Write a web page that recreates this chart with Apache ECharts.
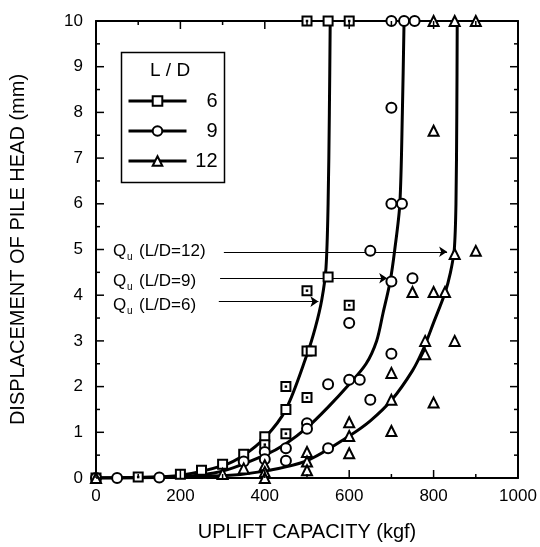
<!DOCTYPE html>
<html>
	<head>
		<meta charset="utf-8">
		<title></title>
		<style>
			body{margin:0;background:#fff;}
			#main{
				width: 540px;
				height: 547px;
			}
		</style>
	</head>
	<body>
		<div id="main"></div>
		<script src="https://cdn.jsdelivr.net/npm/echarts@6/dist/echarts.min.js"></script>
		<script>
			// 拟合曲线 (kgf, mm)
			var curve6 = [[0,0],[100,0.01],[200,0.06],[300,0.27],[350,0.5],[400,0.88],[450,1.5],[500,2.7],[520,3.3],[535,3.9],[545,4.6],[550,6],[553,8],[555,10]];
			var curve9 = [[0,0],[200,0.03],[300,0.15],[400,0.5],[450,0.75],[500,1.1],[550,1.55],[600,2.05],[640,2.5],[665,3.0],[680,3.6],[697,4.3],[708,5],[720,6],[726,8],[730,10]];
			var curve12 = [[0,0],[300,0.05],[400,0.15],[500,0.38],[600,0.92],[650,1.25],[700,1.7],[750,2.35],[777,2.85],[800,3.4],[827,4.05],[840,4.5],[849,5],[853,6],[855,8],[856,10]];

			// 试验点
			var sq6 = [[0,0],[200,0.08],[250,0.17],[300,0.3],[350,0.52],[400,0.9],[450,1.5],[500,2.78],[510,2.78],[550,4.4],[550,10]];
			var sq6dot = [[100,0.02],[400,0.73],[450,0.97],[450,2.0],[500,1.76],[500,4.1],[600,3.78],[500,10],[600,10]];
			var circ9 = [[0,0],[50,0],[150,0.01],[350,0.36],[400,0.57],[400,0.41],[450,0.65],[450,0.38],[500,1.2],[500,1.08],[550,0.65],[550,2.05],[600,2.15],[625,2.15],[600,3.39],[650,1.71],[650,4.97],[700,2.72],[700,4.3],[750,4.37],[700,6.0],[725,6.0],[700,8.1],[700,10],[730,10],[755,10]];
			var tri12 = [[0,0],[300,0.09],[350,0.21],[400,0.28],[400,0.13],[400,0],[500,0.57],[500,0.36],[500,0.17],[600,1.22],[600,0.92],[600,0.54],[700,1.03],[700,1.71],[700,2.3],[750,4.07],[780,2.71],[780,3.0],[800,1.65],[800,4.07],[827,4.07],[850,3.0],[850,4.9],[800,7.6],[900,4.97],[800,10],[850,10],[900,10]];

			// Qu 箭头
			var arrows = [
				{coords:[[303,4.95],[832,4.95]]},
				{coords:[[294,4.37],[690,4.37]]},
				{coords:[[291,3.86],[527,3.86]]}
			];
			var legendNames = ['6','9','12'];

			// 刻度 (主刻度 + 次刻度)
			var xTickVals = [0,100,200,300,400,500,600,700,800,900,1000];
			var yTickVals = [0,0.5,1,1.5,2,2.5,3,3.5,4,4.5,5,5.5,6,6.5,7,7.5,8,8.5,9,9.5,10];

			var font = 'Liberation Sans, Arial, sans-serif';
			var mychart = echarts.init(document.getElementById("main"));

			function axisX(pos, showLabel){
				return {
					type:'value', position:pos, min:0, max:1000, interval:200,
					axisLine:{show:true, onZero:false, lineStyle:{color:'#000', width:2}},
					axisTick:{show:false},
					splitLine:{show:false},
					axisLabel:{show:showLabel, color:'#000', fontSize:17, fontFamily:font, margin:10, formatter:function(v){return String(v);}},
					name: showLabel ? 'UPLIFT CAPACITY (kgf)' : '',
					nameLocation:'middle', nameGap:44,
					nameTextStyle:{color:'#000', fontSize:20, fontFamily:font}
				};
			}
			function axisY(pos, showLabel){
				return {
					type:'value', position:pos, min:0, max:10, interval:1,
					axisLine:{show:true, onZero:false, lineStyle:{color:'#000', width:2}},
					axisTick:{show:false},
					splitLine:{show:false},
					axisLabel:{show:showLabel, color:'#000', fontSize:17, fontFamily:font, margin:13},
					name: showLabel ? 'DISPLACEMENT OF PILE HEAD (mm)' : '',
					nameLocation:'middle', nameGap:68,
					nameTextStyle:{color:'#000', fontSize:20, fontFamily:font}
				};
			}

			function curve(name, data, sym){
				return {
					name:name, type:'line', data:data, smooth:0.3,
					symbol:sym, showSymbol:false, color:'#000',
					lineStyle:{color:'#000', width:3},
					itemStyle:{color:'#000'},
					z:3, silent:true
				};
			}
			function pts(data, sym, size){
				return {
					type:'scatter', data:data, symbol:sym, symbolSize:size,
					itemStyle:{color:'#000', borderWidth:1.5, opacity:1},
					z:4, silent:true
				};
			}

			function qLabel(y, txt){
				return [
					{type:'text', left:113, top:y-10, style:{text:'Q', font:'17px ' + font, fill:'#000'}},
					{type:'text', left:127, top:y-1, style:{text:'u', font:'10px ' + font, fill:'#000'}},
					{type:'text', left:139, top:y-10, style:{text:txt, font:'17px ' + font, fill:'#000'}}
				];
			}

			var baseGraphic = [
				{type:'rect', left:119, top:50, shape:{width:103, height:130}, style:{fill:'none', stroke:'#000', lineWidth:1.5}},
				{type:'text', left:150, top:61, style:{text:'L / D', font:'19px ' + font, fill:'#000'}}
			].concat(qLabel(253, '(L/D=12)'), qLabel(283, '(L/D=9)'), qLabel(307, '(L/D=6)'));

			var option = {
				animation:false,
				backgroundColor:'#fff',
				grid:{left:93, right:22, top:21, bottom:61},
				xAxis:[axisX('bottom', true), axisX('top', false)],
				yAxis:[axisY('left', true), axisY('right', false)],
				legend:{
					data:legendNames, orient:'vertical', left:127, top:91,
					itemWidth:58, itemHeight:12, itemGap:10, padding:0,
					formatter:function(n){return '{a|' + n + '}';},
					textStyle:{color:'#000', fontSize:20, lineHeight:20, fontFamily:font,
						rich:{a:{width:26, align:'right', fontSize:20, fontFamily:font, color:'#000'}}},
					lineStyle:{width:3}
				},
				graphic:baseGraphic,
				series:[
					curve('6', curve6, 'emptyRect'),
					curve('9', curve9, 'emptyCircle'),
					curve('12', curve12, 'emptyTriangle'),
					pts(sq6, 'emptyRect', 9),
					pts(sq6dot, 'emptyRect', 9),
					{type:'scatter', data:sq6dot, symbol:'rect', symbolSize:2.5, itemStyle:{color:'#000', opacity:1}, z:5, silent:true},
					pts(circ9, 'emptyCircle', 10),
					pts(tri12, 'emptyTriangle', 10),
					{
						type:'lines', coordinateSystem:'cartesian2d', data:arrows,
						symbol:['none','arrow'], symbolSize:8,
						lineStyle:{color:'#000', width:1, opacity:1},
						z:2, silent:true
					}
				]
			};
			mychart.setOption(option);

			// 内向刻度，四边都画 (用坐标轴换算位置)
			var ticks = [];
			function tickLine(x1, y1, x2, y2){
				ticks.push({type:'line', shape:{x1:x1, y1:y1, x2:x2, y2:y2}, style:{stroke:'#000', lineWidth:1.5}, z:100});
			}
			xTickVals.forEach(function(v){
				var len = v % 200 === 0 ? 8 : 4;
				var b = mychart.convertToPixel({xAxisIndex:0, yAxisIndex:0}, [v, 0]);
				var t = mychart.convertToPixel({xAxisIndex:0, yAxisIndex:0}, [v, 10]);
				tickLine(b[0], b[1], b[0], b[1] - len);
				tickLine(t[0], t[1], t[0], t[1] + len);
			});
			yTickVals.forEach(function(v){
				var len = v % 1 === 0 ? 8 : 4;
				var l = mychart.convertToPixel({xAxisIndex:0, yAxisIndex:0}, [0, v]);
				var r = mychart.convertToPixel({xAxisIndex:0, yAxisIndex:0}, [1000, v]);
				tickLine(l[0], l[1], l[0] + len, l[1]);
				tickLine(r[0], r[1], r[0] - len, r[1]);
			});
			mychart.setOption({graphic:baseGraphic.concat(ticks)});
		</script>
	</body>
</html>
